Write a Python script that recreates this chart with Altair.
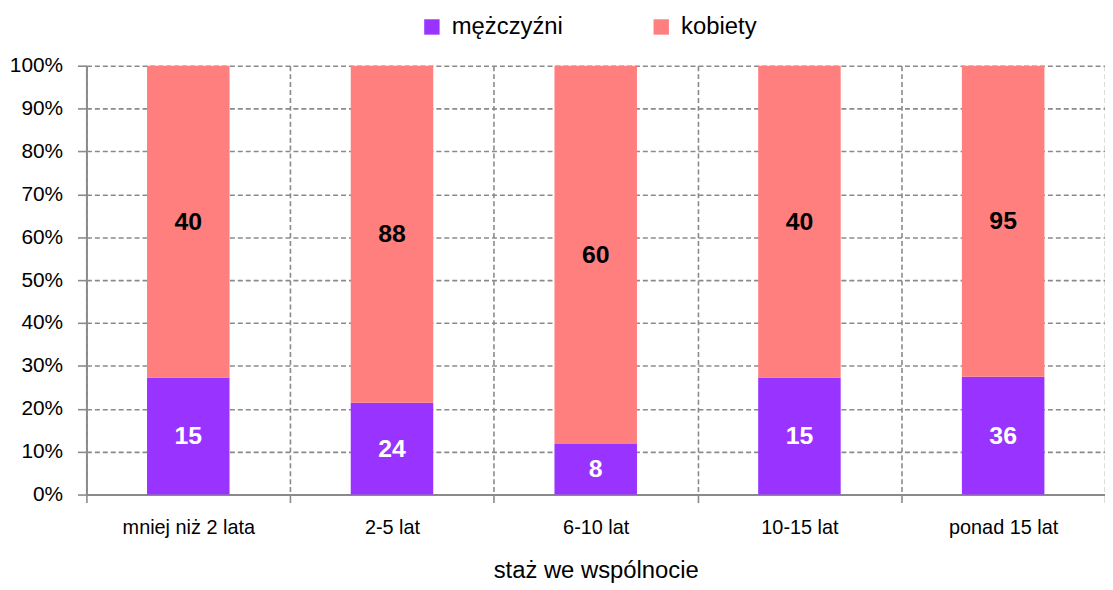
import altair as alt
import pandas as pd

categories = ["mniej niż 2 lata", "2-5 lat", "6-10 lat", "10-15 lat", "ponad 15 lat"]
groups = ["mężczyźni", "kobiety"]
men = [15, 24, 8, 15, 36]
women = [40, 88, 60, 40, 95]
colors = ["#9933FF", "#FF7F7F"]

rows = []
for c, m, w in zip(categories, men, women):
    rows.append({"category": c, "group": groups[0], "value": m, "ord": 0})
    rows.append({"category": c, "group": groups[1], "value": w, "ord": 1})
df = pd.DataFrame(rows)

FONT = "Liberation Sans, Arial, sans-serif"
GRID = "#8a8a8a"

x_enc = alt.X(
    "category:N",
    sort=categories,
    scale=alt.Scale(paddingInner=0, paddingOuter=0),
    axis=alt.Axis(
        title="staż we wspólnocie",
        titleFontSize=24, titleFont=FONT, titleFontWeight="normal", titleColor="#000",
        titlePadding=22,
        labelFontSize=20, labelFont=FONT, labelColor="#000", labelAngle=0, labelPadding=15,
        tickBand="extent", tickSize=8, tickColor=GRID, tickWidth=1.6,
        grid=True, gridDash=[5, 3], gridColor=GRID, gridWidth=1.6,
        domainColor=GRID, domainWidth=2,
    ),
)

base = alt.Chart(df).transform_stack(
    stack="value",
    groupby=["category"],
    as_=["y0", "y1"],
    offset="normalize",
    sort=[alt.SortField("ord", order="ascending")],
).transform_calculate(mid="(datum.y0 + datum.y1) / 2")

bars = base.mark_bar(width=alt.RelativeBandSize(0.405)).encode(
    x=x_enc,
    y=alt.Y(
        "y0:Q",
        scale=alt.Scale(domain=[0, 1]),
        axis=alt.Axis(
            title=None, format=".0%", values=[i / 10 for i in range(11)],
            labelFontSize=21, labelFont=FONT, labelColor="#000", labelPadding=15,
            tickSize=9, tickColor=GRID, tickWidth=1.6,
            grid=True, gridDash=[5, 3], gridColor=GRID, gridWidth=1.6,
            domainColor=GRID, domainWidth=2,
        ),
    ),
    y2="y1:Q",
    color=alt.Color(
        "group:N",
        scale=alt.Scale(domain=groups, range=colors),
        legend=alt.Legend(
            title=None, orient="none", legendX=336, legendY=-51, direction="horizontal",
            symbolType="square", symbolSize=240, symbolStrokeWidth=0,
            labelFontSize=24, labelFont=FONT, labelColor="#000", labelOffset=8,
            columnPadding=86,
        ),
    ),
)

labels = base.mark_text(fontSize=25, fontWeight="bold", font=FONT).encode(
    x=alt.X("category:N", sort=categories),
    y=alt.Y("mid:Q"),
    text=alt.Text("value:Q"),
    color=alt.Color(
        "group:N",
        scale=alt.Scale(domain=groups, range=["#FFFFFF", "#000000"]),
        legend=None,
    ),
)

chart = (
    alt.layer(bars, labels)
    .resolve_scale(color="independent")
    .properties(
        width=1026, height=432,
        autosize=alt.AutoSizeParams(type="none"),
        padding={"left": 79, "top": 56, "right": 0, "bottom": 92},
    )
    .configure_view(stroke=None)
)

chart.save("out.html", embed_options={"renderer": "svg", "actions": False})
